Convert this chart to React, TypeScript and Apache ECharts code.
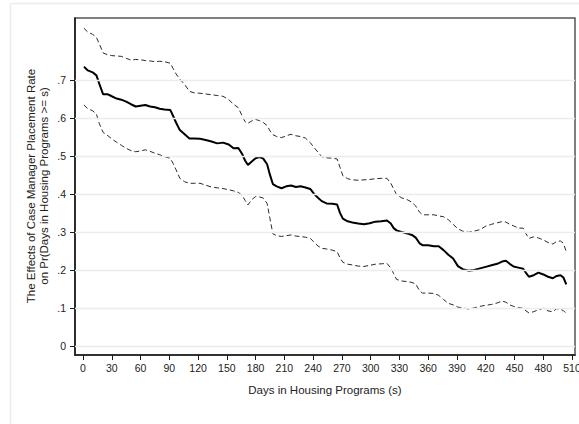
import React, { useEffect, useRef } from "react";
import * as echarts from "echarts";

// Days in housing programs at which the curves are sampled
const days = [
  1, 5, 10, 14, 17, 21, 26, 30, 35, 40, 45, 50, 55, 60, 65, 70, 75, 80, 85, 91,
  94, 97, 101, 106, 111, 116, 122, 128, 134, 140, 146, 152, 157, 162, 166, 169,
  172, 176, 180, 184, 188, 192, 195, 198, 202, 207, 212, 217, 222, 227, 232, 237,
  241, 245, 249, 254, 260, 265, 268, 271, 276, 281, 287, 293, 299, 305, 311, 317,
  321, 324, 327, 332, 338, 343, 347, 351, 354, 360, 366, 371, 376, 381, 386, 391,
  396, 402, 408, 414, 420, 426, 432, 437, 441, 445, 449, 454, 459, 462, 465, 470,
  475, 480, 485, 490, 494, 498, 501, 504,
];

// Point estimate of the effect
const estimate = [
  0.735, 0.725, 0.72, 0.712, 0.69, 0.662, 0.662, 0.657, 0.651, 0.648, 0.643, 0.636,
  0.63, 0.632, 0.634, 0.63, 0.628, 0.624, 0.622, 0.621, 0.605, 0.588, 0.568, 0.557,
  0.546, 0.546, 0.545, 0.542, 0.538, 0.533, 0.535, 0.53, 0.52, 0.521, 0.505, 0.488,
  0.476, 0.485, 0.494, 0.497, 0.493, 0.478, 0.45, 0.426, 0.42, 0.415, 0.42, 0.422,
  0.418, 0.42, 0.417, 0.413, 0.4, 0.39, 0.381, 0.375, 0.374, 0.372, 0.35, 0.335,
  0.328, 0.325, 0.322, 0.32, 0.323, 0.327, 0.328, 0.33, 0.322, 0.31, 0.304, 0.3,
  0.296, 0.292, 0.285, 0.27, 0.265, 0.265, 0.262, 0.262, 0.252, 0.24, 0.23, 0.21,
  0.202, 0.198, 0.2, 0.204, 0.208, 0.212, 0.216, 0.222, 0.224, 0.216, 0.209, 0.206,
  0.203, 0.192, 0.182, 0.186, 0.193, 0.188, 0.182, 0.178, 0.184, 0.186, 0.18, 0.162,
];

// Upper confidence bound
const upperCI = [
  0.836, 0.826, 0.82, 0.812, 0.795, 0.771, 0.766, 0.764, 0.763, 0.762, 0.757, 0.752,
  0.754, 0.753, 0.751, 0.75, 0.748, 0.749, 0.748, 0.744, 0.73, 0.716, 0.702, 0.688,
  0.67, 0.666, 0.665, 0.663, 0.661, 0.659, 0.657, 0.648, 0.636, 0.627, 0.605, 0.59,
  0.586, 0.592, 0.596, 0.593, 0.588, 0.58, 0.566, 0.556, 0.551, 0.548, 0.553, 0.557,
  0.553, 0.551, 0.547, 0.535, 0.522, 0.51, 0.498, 0.495, 0.494, 0.492, 0.47, 0.448,
  0.44, 0.437, 0.436, 0.437, 0.438, 0.44, 0.441, 0.441, 0.428, 0.413, 0.398, 0.39,
  0.385, 0.378, 0.368, 0.352, 0.345, 0.345, 0.345, 0.342, 0.34, 0.332, 0.32, 0.308,
  0.302, 0.299, 0.302, 0.306, 0.315, 0.32, 0.324, 0.327, 0.326, 0.32, 0.316, 0.31,
  0.31, 0.295, 0.283, 0.287, 0.284, 0.279, 0.272, 0.268, 0.275, 0.276, 0.27, 0.248,
];

// Lower confidence bound
const lowerCI = [
  0.634, 0.624, 0.619, 0.61, 0.585, 0.562, 0.553, 0.545, 0.536, 0.528, 0.52, 0.514,
  0.511, 0.513, 0.516, 0.512, 0.507, 0.503, 0.498, 0.494, 0.48, 0.464, 0.441, 0.432,
  0.428, 0.428, 0.428, 0.423, 0.418, 0.416, 0.414, 0.411, 0.408, 0.404, 0.396, 0.383,
  0.371, 0.385, 0.393, 0.392, 0.389, 0.375, 0.335, 0.295, 0.29, 0.288, 0.29, 0.292,
  0.289, 0.288, 0.286, 0.283, 0.273, 0.263, 0.257, 0.255, 0.252, 0.248, 0.232, 0.22,
  0.215, 0.213, 0.21, 0.209, 0.212, 0.215, 0.216, 0.217, 0.205, 0.19, 0.175, 0.171,
  0.169, 0.167, 0.163, 0.145, 0.139, 0.139, 0.138, 0.133, 0.122, 0.112, 0.108, 0.102,
  0.1, 0.097, 0.1, 0.104, 0.107, 0.109, 0.113, 0.118, 0.115, 0.108, 0.104, 0.101,
  0.099, 0.092, 0.087, 0.09, 0.095, 0.099, 0.092, 0.09, 0.098, 0.096, 0.093, 0.085,
];

const xTicks = [0, 30, 60, 90, 120, 150, 180, 210, 240, 270, 300, 330, 360, 390, 420, 450, 480, 510];
const yTicks = [0, 0.1, 0.2, 0.3, 0.4, 0.5, 0.6, 0.7];

const xTitle = "Days in Housing Programs (s)";
const yTitle = "The Effects of Case Manager Placement Rate\non Pr(Days in Housing Programs >= s)";

const FONT = "'Liberation Sans', Arial, Helvetica, sans-serif";
const W = 579;
const H = 424;

const pairs = (ys: number[]) => days.map((d, i) => [d, ys[i]]);

const fmtY = (v: number) => (Math.abs(v) < 1e-9 ? "0" : v.toFixed(1).replace(/^0/, ""));

export default function App() {
  const ref = useRef<HTMLDivElement>(null);

  useEffect(() => {
    if (!ref.current) return;
    const chart = echarts.init(ref.current, undefined, { renderer: "svg" });

    chart.setOption({
      animation: false,
      backgroundColor: "#ffffff",
      grid: {
        left: 75,
        right: 4,
        top: 18,
        bottom: 69,
        show: true,
        borderColor: "#555555",
        borderWidth: 1.5,
        containLabel: false,
        outerBoundsMode: "none",
      },
      xAxis: {
        type: "value",
        min: -8.34,
        max: 513.1,
        name: xTitle,
        nameLocation: "middle",
        nameGap: 29,
        nameTextStyle: { fontFamily: FONT, fontSize: 11.5, color: "#222" },
        axisLine: { show: true, onZero: false, lineStyle: { color: "#1a1a1a", width: 1.6 } },
        axisTick: {
          show: true,
          length: 5,
          inside: false,
          customValues: xTicks,
          lineStyle: { color: "#1a1a1a", width: 1 },
        },
        axisLabel: {
          customValues: xTicks,
          margin: 7,
          fontFamily: FONT,
          fontSize: 10.5,
          color: "#222",
          formatter: (v: number) => String(Math.round(v)),
        },
        splitLine: { show: false },
      },
      yAxis: {
        type: "value",
        min: -0.024,
        max: 0.863,
        axisLine: { show: true, onZero: false, lineStyle: { color: "#1a1a1a", width: 1.6 } },
        axisTick: {
          show: true,
          length: 5,
          inside: false,
          customValues: yTicks,
          lineStyle: { color: "#1a1a1a", width: 1 },
        },
        axisLabel: {
          customValues: yTicks,
          margin: 9,
          fontFamily: FONT,
          fontSize: 10.5,
          color: "#222",
          formatter: (v: number) => fmtY(v),
        },
        splitLine: { show: false },
      },
      graphic: [
        {
          type: "line",
          silent: true,
          shape: { x1: 10.5, y1: 3.5, x2: W, y2: 3.5 },
          style: { stroke: "#e6eef0", lineWidth: 1.5 },
        },
        {
          type: "line",
          silent: true,
          shape: { x1: 10.5, y1: 3.5, x2: 10.5, y2: H },
          style: { stroke: "#e6eef0", lineWidth: 1.5 },
        },
        {
          type: "text",
          silent: true,
          x: 37.5,
          y: 186,
          rotation: Math.PI / 2,
          style: {
            text: yTitle,
            fontFamily: FONT,
            fontSize: 11.5,
            fill: "#222",
            align: "center",
            verticalAlign: "middle",
            lineHeight: 13,
          },
        },
      ],
      series: [
        {
          name: "grid",
          type: "line",
          data: [],
          z: 1,
          silent: true,
          markLine: {
            silent: true,
            symbol: ["none", "none"],
            label: { show: false },
            lineStyle: { color: "#e6eef0", type: "solid", width: 1.3 },
            data: yTicks.map((v) => ({ yAxis: v })),
          },
        },
        {
          name: "Upper bound",
          type: "line",
          data: pairs(upperCI),
          z: 3,
          showSymbol: false,
          lineStyle: { color: "#2a2a2a", width: 1, type: [5, 3] },
        },
        {
          name: "Lower bound",
          type: "line",
          data: pairs(lowerCI),
          z: 3,
          showSymbol: false,
          lineStyle: { color: "#2a2a2a", width: 1, type: [5, 3] },
        },
        {
          name: "Estimate",
          type: "line",
          data: pairs(estimate),
          z: 4,
          showSymbol: false,
          lineStyle: { color: "#000000", width: 2 },
        },
      ],
    });

    return () => chart.dispose();
  }, []);

  return (
    <div
      ref={ref}
      style={{ position: "absolute", left: 0, top: 0, width: W, height: H, background: "#fff" }}
    />
  );
}
